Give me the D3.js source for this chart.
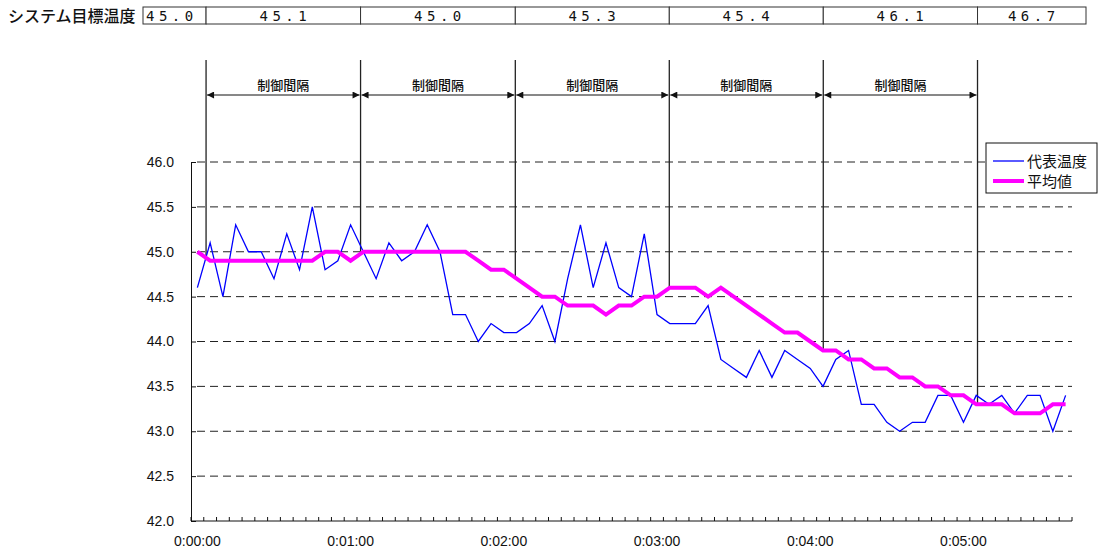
<!DOCTYPE html>
<html>
<head>
<meta charset="utf-8">
<script src="https://cdn.jsdelivr.net/npm/d3@7"></script>
<style>
  html, body { margin: 0; padding: 0; background: #fff; }
  svg { display: block; }
  text { fill: #111; }
</style>
</head>
<body>
<svg id="chart" width="1099" height="553"></svg>
<script>
// Sampling times in seconds (every 5 s)
const sampleSeconds = d3.range(0, 345, 5);

// 代表温度 (representative temperature)
const representativeTemp = [
  44.6, 45.1, 44.5, 45.3, 45.0, 45.0, 44.7, 45.2, 44.8, 45.5,
  44.8, 44.9, 45.3, 45.0, 44.7, 45.1, 44.9, 45.0, 45.3, 45.0,
  44.3, 44.3, 44.0, 44.2, 44.1, 44.1, 44.2, 44.4, 44.0, 44.7,
  45.3, 44.6, 45.1, 44.6, 44.5, 45.2, 44.3, 44.2, 44.2, 44.2,
  44.4, 43.8, 43.7, 43.6, 43.9, 43.6, 43.9, 43.8, 43.7, 43.5,
  43.8, 43.9, 43.3, 43.3, 43.1, 43.0, 43.1, 43.1, 43.4, 43.4,
  43.1, 43.4, 43.3, 43.4, 43.2, 43.4, 43.4, 43.0, 43.4
];

// 平均値 (moving average)
const averageTemp = [
  45.0, 44.9, 44.9, 44.9, 44.9, 44.9, 44.9, 44.9, 44.9, 44.9,
  45.0, 45.0, 44.9, 45.0, 45.0, 45.0, 45.0, 45.0, 45.0, 45.0,
  45.0, 45.0, 44.9, 44.8, 44.8, 44.7, 44.6, 44.5, 44.5, 44.4,
  44.4, 44.4, 44.3, 44.4, 44.4, 44.5, 44.5, 44.6, 44.6, 44.6,
  44.5, 44.6, 44.5, 44.4, 44.3, 44.2, 44.1, 44.1, 44.0, 43.9,
  43.9, 43.8, 43.8, 43.7, 43.7, 43.6, 43.6, 43.5, 43.5, 43.4,
  43.4, 43.3, 43.3, 43.3, 43.2, 43.2, 43.2, 43.3, 43.3
];

// Control update times (s) and the system target temperature per interval
const controlTimes = [3.4, 63.9, 124.5, 184.8, 245.1, 305.5];
const targetTemps = [45.0, 45.1, 45.0, 45.3, 45.4, 46.1, 46.7];

// Axis ticks
const yTicks = [42.0, 42.5, 43.0, 43.5, 44.0, 44.5, 45.0, 45.5, 46.0];
const xLabelSeconds = [0, 60, 120, 180, 240, 300];

const seriesNames = ["代表温度", "平均値"];
const intervalLabel = "制御間隔";
const tableTitle = "システム目標温度";

const svg = d3.select("#chart");
const CJK = "'Noto Sans CJK JP', 'Noto Sans', sans-serif";
const LAT = "'Liberation Sans', Arial, sans-serif";

// Plot frame
const plot = { left: 191, right: 1072, top: 162, bottom: 521 };
const x = d3.scaleLinear().domain([-2.5, 342.5]).range([plot.left, plot.right]);
const y = d3.scaleLinear().domain([42, 46]).range([plot.bottom, plot.top]);

// Dashed horizontal gridlines
svg.append("g").selectAll("line")
  .data(yTicks.filter(v => v > 42))
  .join("line")
  .attr("x1", plot.left + 6).attr("x2", plot.right)
  .attr("y1", d => y(d)).attr("y2", d => y(d))
  .attr("stroke", "#222").attr("stroke-width", 1)
  .attr("stroke-dasharray", "8,5");

// Y axis (ticks point inward)
const yAxis = d3.axisLeft(y).tickValues(yTicks).tickFormat(d3.format(".1f")).tickSizeInner(-5).tickSizeOuter(0).tickPadding(17);
const gy = svg.append("g").attr("transform", `translate(${plot.left},0)`).call(yAxis);
gy.select(".domain").attr("stroke", "#111");
gy.selectAll(".tick line").attr("stroke", "#111");
gy.selectAll("text").attr("font-family", LAT).attr("font-size", 14).attr("fill", "#111");

// X axis: minor ticks at each 5 s band edge, labels every minute
const bandEdges = d3.range(-2.5, 345, 5);
const gx = svg.append("g").attr("transform", `translate(0,${plot.bottom})`);
gx.append("line").attr("x1", plot.left).attr("x2", plot.right).attr("y1", 0).attr("y2", 0)
  .attr("stroke", "#111").attr("stroke-width", 1);
gx.selectAll("line.minor").data(bandEdges).join("line").attr("class", "minor")
  .attr("x1", d => x(d)).attr("x2", d => x(d)).attr("y1", 0).attr("y2", -4)
  .attr("stroke", "#111").attr("stroke-width", 1);
const fmtTime = s => `${Math.floor(s / 3600)}:${String(Math.floor(s / 60) % 60).padStart(2, "0")}:${String(s % 60).padStart(2, "0")}`;
gx.selectAll("text").data(xLabelSeconds).join("text")
  .attr("x", d => x(d)).attr("y", 25)
  .attr("text-anchor", "middle").attr("font-family", LAT).attr("font-size", 14)
  .text(fmtTime);

// Helper: average value at an arbitrary time (linear interpolation)
function averageAt(t) {
  const i = Math.min(Math.floor(t / 5), sampleSeconds.length - 2);
  const f = (t - sampleSeconds[i]) / 5;
  return averageTemp[i] + (averageTemp[i + 1] - averageTemp[i]) * f;
}

// Control interval vertical markers
const markerTop = 60;
svg.append("g").selectAll("line").data(controlTimes).join("line")
  .attr("x1", d => x(d)).attr("x2", d => x(d))
  .attr("y1", markerTop).attr("y2", d => y(averageAt(d)))
  .attr("stroke", "#222").attr("stroke-width", 1.3);

// Double-headed arrows between markers
const defs = svg.append("defs");
defs.append("marker").attr("id", "ahEnd").attr("viewBox", "0 0 10 10")
  .attr("refX", 10).attr("refY", 5).attr("markerWidth", 8).attr("markerHeight", 7)
  .attr("markerUnits", "userSpaceOnUse").attr("orient", "auto")
  .append("path").attr("d", "M0,0 L10,5 L0,10 Z").attr("fill", "#111");
defs.append("marker").attr("id", "ahStart").attr("viewBox", "0 0 10 10")
  .attr("refX", 0).attr("refY", 5).attr("markerWidth", 8).attr("markerHeight", 7)
  .attr("markerUnits", "userSpaceOnUse").attr("orient", "auto")
  .append("path").attr("d", "M10,0 L0,5 L10,10 Z").attr("fill", "#111");

const spans = d3.pairs(controlTimes);
const arrowY = 95;
const arrows = svg.append("g");
arrows.selectAll("line").data(spans).join("line")
  .attr("x1", d => x(d[0]) + 1).attr("x2", d => x(d[1]) - 1)
  .attr("y1", arrowY).attr("y2", arrowY)
  .attr("stroke", "#111").attr("stroke-width", 1)
  .attr("marker-start", "url(#ahStart)").attr("marker-end", "url(#ahEnd)");
arrows.selectAll("text").data(spans).join("text")
  .attr("x", d => (x(d[0]) + x(d[1])) / 2).attr("y", arrowY - 5)
  .attr("text-anchor", "middle").attr("font-family", CJK).attr("font-size", 13)
  .attr("font-weight", 500)
  .text(intervalLabel);

// Series lines (average drawn above the representative line)
const line = d3.line().x((d, i) => x(sampleSeconds[i])).y(d => y(d));
svg.append("path").datum(representativeTemp).attr("d", line)
  .attr("fill", "none").attr("stroke", "#0000ff").attr("stroke-width", 1.3)
  .attr("stroke-linejoin", "miter");
svg.append("path").datum(averageTemp).attr("d", line)
  .attr("fill", "none").attr("stroke", "#ff00ff").attr("stroke-width", 4)
  .attr("stroke-linejoin", "miter");

// Target temperature table
const table = { left: 143, right: 1086, top: 7, bottom: 24 };
const cellEdges = [table.left, ...controlTimes.map(t => x(t)), table.right];
const cells = d3.pairs(cellEdges).map((e, i) => ({ x0: e[0], x1: e[1], v: targetTemps[i] }));
const tg = svg.append("g");
tg.append("text").attr("x", 8).attr("y", (table.top + table.bottom) / 2 + 6)
  .attr("font-family", CJK).attr("font-size", 16).attr("font-weight", 500)
  .text(tableTitle);
tg.selectAll("rect").data(cells).join("rect")
  .attr("x", d => d.x0).attr("y", table.top)
  .attr("width", d => d.x1 - d.x0).attr("height", table.bottom - table.top)
  .attr("fill", "#fff").attr("stroke", "#333").attr("stroke-width", 1);
tg.selectAll("text.val").data(cells).join("text").attr("class", "val")
  .attr("x", (d, i) => i === 0 ? d.x0 + 3 : (d.x0 + d.x1) / 2 + 2)
  .attr("y", table.bottom - 3)
  .attr("text-anchor", (d, i) => i === 0 ? "start" : "middle")
  .attr("font-family", "'DejaVu Sans Mono', monospace").attr("font-size", 14)
  .attr("letter-spacing", 4.5)
  .attr("transform", (d, i) => "")
  .text(d => d3.format(".1f")(d.v));

// Legend
const lg = svg.append("g");
lg.append("rect").attr("x", 986).attr("y", 143).attr("width", 111).attr("height", 50)
  .attr("fill", "#fff").attr("stroke", "#111").attr("stroke-width", 1);
const legendItems = [
  { name: seriesNames[0], color: "#0000ff", w: 1.3 },
  { name: seriesNames[1], color: "#ff00ff", w: 4 }
];
legendItems.forEach((it, i) => {
  const ly = 161 + i * 20;
  lg.append("line").attr("x1", 993).attr("x2", 1024).attr("y1", ly).attr("y2", ly)
    .attr("stroke", it.color).attr("stroke-width", it.w);
  lg.append("text").attr("x", 1027).attr("y", ly + 5.5)
    .attr("font-family", CJK).attr("font-size", 15).text(it.name);
});
</script>
</body>
</html>
